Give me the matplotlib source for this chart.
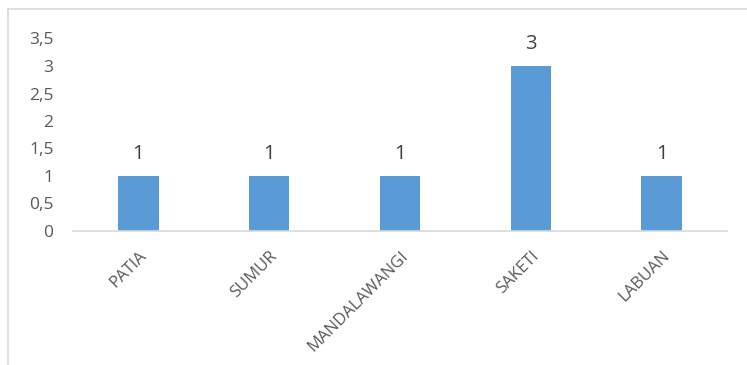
import matplotlib
matplotlib.use("Agg")
import matplotlib.pyplot as plt
from matplotlib.ticker import FuncFormatter, MultipleLocator
from matplotlib.lines import Line2D

kecamatan = ["PATIA", "SUMUR", "MANDALAWANGI", "SAKETI", "LABUAN"]
jumlah = [1, 1, 1, 3, 1]

plt.rcParams['font.family'] = ['Open Sans', 'DejaVu Sans']

fig = plt.figure(figsize=(7.47, 3.65), dpi=100)
ax = fig.add_axes([73/747, 1-231/365, 654/747, (231-38.5)/365])

x = range(len(kecamatan))
bars = ax.bar(x, jumlah, width=0.31, color='#5b9bd5', zorder=2)
for i, v in zip(x, jumlah):
    ax.text(i, v + 0.22, str(v), ha='center', va='bottom', fontsize=14.5, color='#404040')

ax.set_xlim(-0.5, len(kecamatan) - 0.5)
ax.set_ylim(0, 3.5)
ax.yaxis.set_major_locator(MultipleLocator(0.5))
ax.yaxis.set_major_formatter(FuncFormatter(lambda v, p: ('%g' % v).replace('.', ',')))
ax.set_xticks(list(x))
ax.set_xticklabels(kecamatan, rotation=45, ha='right', va='top', rotation_mode='anchor')
ax.tick_params(axis='x', length=0, pad=12, labelsize=12, labelcolor='#595959')
ax.tick_params(axis='y', length=0, pad=14, labelsize=12.5, labelcolor='#595959')
for s in ['top', 'right', 'left']:
    ax.spines[s].set_visible(False)
ax.spines['bottom'].set_color('#d9d9d9')
ax.spines['bottom'].set_linewidth(1.2)

# chart frame
fig.add_artist(Line2D([8/747, 1], [1-9/365, 1-9/365], color='#d9d9d9', lw=1.2))
fig.add_artist(Line2D([8/747, 8/747], [0, 1-9/365], color='#d9d9d9', lw=1.2))

fig.savefig('out.png', dpi=100)
